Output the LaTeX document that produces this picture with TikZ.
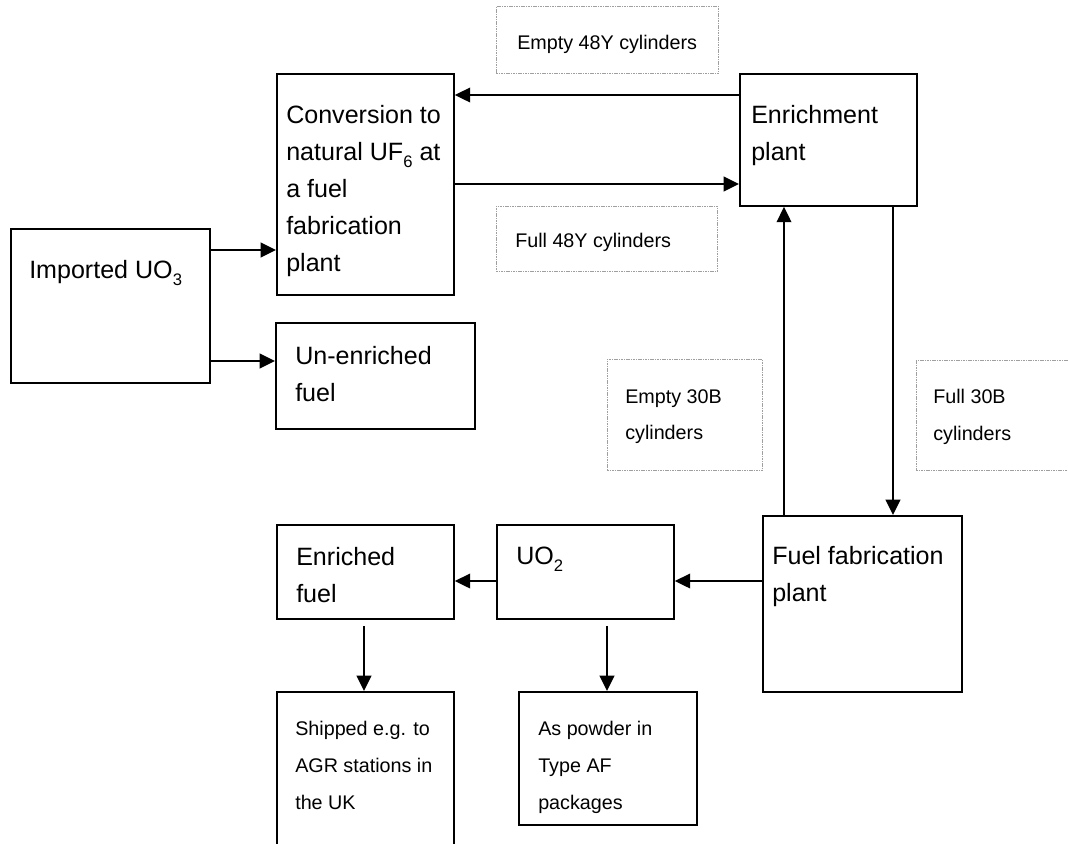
\documentclass[tikz,border=0pt]{standalone}
\usepackage{fontspec}
\setmainfont{Liberation Sans}
\usetikzlibrary{arrows.meta}

\newcommand{\bigtxt}{\fontsize{18.8}{27.8}\selectfont}
\newcommand{\smalltxt}{\fontsize{14.8}{27.4}\selectfont}
\newcommand{\chemsub}[1]{\raisebox{-0.28em}{\fontsize{12.5}{12.5}\selectfont #1}}

\tikzset{
  wh/.style 2 args={minimum width=#1*0.75pt, minimum height=#2*0.75pt},
  box/.style={draw, line width=1.4pt, anchor=north west, inner sep=0pt},
  cylbox/.style={draw=gray!75, line width=0.6pt, dash pattern=on 1.2pt off 0.6pt,
    anchor=north west, inner sep=0pt},
  txt/.style={anchor=north west, align=left, inner sep=0pt, font=\bigtxt},
  smalltxt/.style={anchor=north west, align=left, inner sep=0pt, font=\smalltxt},
  arr/.style={-{Triangle[length=11.5pt,width=11pt]}, line width=1.4pt},
}

\begin{document}
\begin{tikzpicture}[x=0.75pt, y=-0.75pt]
\path[use as bounding box, clip] (0,0) rectangle (1068,843);

% main boxes
\node[box, wh={177}{221}] (conv) at (276,73) {};
\node[box, wh={177}{132}] (enr) at (739,73) {};
\node[box, wh={199}{154}] (imp) at (10,228) {};
\node[box, wh={199}{106}] (unen) at (275,322) {};
\node[box, wh={177}{94}] (enf) at (276,524) {};
\node[box, wh={177}{94}] (uo2) at (496,524) {};
\node[box, wh={199}{176}] (ff) at (762,515) {};
\node[box, wh={177}{160}] (ship) at (276,691) {};
\node[box, wh={178}{133}] (pow) at (518,691) {};

% cylinder labels
\node[cylbox, wh={222}{67}] (e48) at (496,6) {};
\node[cylbox, wh={221}{65}] (f48) at (496,206) {};
\node[cylbox, wh={155}{111}] (e30) at (607,359) {};
\node[cylbox, wh={160}{110}] (f30) at (916,360) {};

% texts
\node[txt] (conv-t) at (286,105) {Conversion to\\natural UF\chemsub{6} at\\a fuel\\fabrication\\plant};
\node[txt] (enr-t) at (751,105) {Enrichment\\plant};
\node[txt] (imp-t) at (29,260) {Imported UO\chemsub{3}};
\node[txt] (unen-t) at (295,346) {Un-enriched\\fuel};
\node[txt] (enf-t) at (296,547) {Enriched\\fuel};
\node[txt] (uo2-t) at (516,547) {UO\chemsub{2}};
\node[txt] (ff-t) at (772,546) {Fuel fabrication\\plant};
\node[smalltxt] (e48-t) at (517,35) {Empty 48Y cylinders};
\node[smalltxt] (f48-t) at (515,233) {Full 48Y cylinders};
\node[smalltxt] (e30-t) at (625,389) {Empty 30B\\cylinders};
\node[smalltxt] (f30-t) at (933,389) {Full 30B\\cylinders};
\node[smalltxt, font=\fontsize{14.8}{27.8}\selectfont] (ship-t) at (295,721) {Shipped e.g. to\\AGR stations in\\the UK};
\node[smalltxt, font=\fontsize{14.8}{27.8}\selectfont] (pow-t) at (538,721) {As powder in\\Type AF\\packages};

% flows
\draw[arr] (enr.west |- 0,95) -- (conv.east |- 0,95);
\draw[arr] (conv.east |- 0,184) -- (enr.west |- 0,184);
\draw[arr] (imp.east |- 0,250) -- (conv.west |- 0,250);
\draw[arr] (imp.east |- 0,361) -- (unen.west |- 0,361);
\draw[arr] (ff.north -| 784,0) -- (enr.south -| 784,0);
\draw[arr] (enr.south -| 893,0) -- (ff.north -| 893,0);
\draw[arr] (ff.west |- 0,581) -- (uo2.east |- 0,581);
\draw[arr] (uo2.west |- 0,581) -- (enf.east |- 0,581);
\draw[arr] ([yshift=-6*0.75pt]enf.south -| 364,0) -- (ship.north -| 364,0);
\draw[arr] ([yshift=-6*0.75pt]uo2.south -| 607,0) -- (pow.north -| 607,0);
\end{tikzpicture}
\end{document}
